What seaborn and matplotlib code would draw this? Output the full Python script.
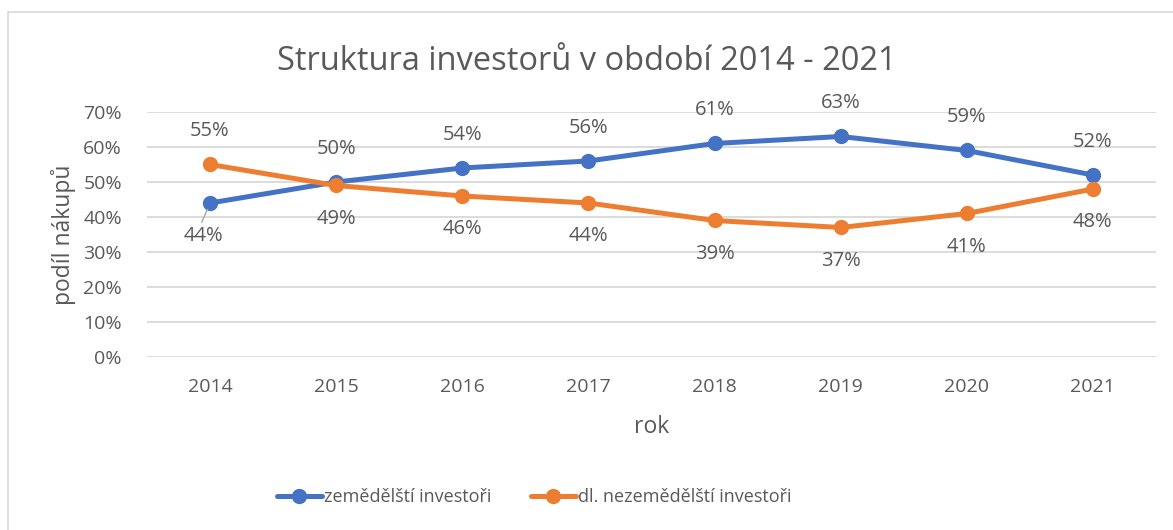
import pandas as pd
import seaborn as sns
import matplotlib.pyplot as plt
from matplotlib.patches import Rectangle

years = ['2014', '2015', '2016', '2017', '2018', '2019', '2020', '2021']
zemedelsti = [44, 50, 54, 56, 61, 63, 59, 52]
nezemedelsti = [55, 49, 46, 44, 39, 37, 41, 48]
series_names = ['zemědělští investoři', 'dl. nezemědělští investoři']

df = pd.DataFrame({
    'rok': years * 2,
    'podil': [v / 100 for v in zemedelsti + nezemedelsti],
    'skupina': [series_names[0]] * len(years) + [series_names[1]] * len(years),
})

sns.set_style('white')
plt.rcParams['font.family'] = ['Open Sans', 'DejaVu Sans']
txt = '#595959'

fig = plt.figure(figsize=(11.73, 5.3), dpi=100)
ax = fig.add_axes([0.1253, 0.3264, 0.8602, 0.4623])

# chart frame
fig.patches.append(Rectangle((8 / 1173, -0.1), 1.2, 1 - 12 / 530 + 0.1, transform=fig.transFigure,
                             fill=False, edgecolor='#D9D9D9', lw=1.2))

palette = {series_names[0]: '#4472C4', series_names[1]: '#ED7D31'}
sns.lineplot(data=df, x='rok', y='podil', hue='skupina', palette=palette, marker='o',
             markersize=11, markeredgewidth=0, linewidth=3.6, ax=ax, legend=True)

ax.set_ylim(0, 0.7)
ax.set_xlim(-0.5, len(years) - 0.5)
ax.set_yticks([i / 10 for i in range(8)])
ax.set_yticklabels([f'{i * 10}%' for i in range(8)])
ax.yaxis.grid(True, color='#D9D9D9', lw=1.3)
ax.xaxis.grid(False)
for s in ax.spines.values():
    s.set_visible(False)
ax.tick_params(axis='both', length=0, labelsize=14, labelcolor=txt)
ax.tick_params(axis='x', pad=15)
ax.tick_params(axis='y', pad=18)
ax.set_xlabel('rok', fontsize=16.5, color=txt, labelpad=14)
ax.set_ylabel('podíl nákupů', fontsize=16.5, color=txt, labelpad=5)
fig.suptitle('Struktura investorů v období 2014 - 2021', fontsize=23.5, color=txt, y=0.915)

# data labels
off = 24
for i, v in enumerate(zemedelsti):
    dy = -off if i == 0 else off
    ax.annotate(f'{v}%', (i, v / 100), xytext=(-5 if i == 0 else 0, dy), textcoords='offset points',
                ha='center', va='center', fontsize=14.5, color=txt)
for i, v in enumerate(nezemedelsti):
    dy = off if i == 0 else -off
    ax.annotate(f'{v}%', (i, v / 100), xytext=(0, dy), textcoords='offset points',
                ha='center', va='center', fontsize=14.5, color=txt)
# leader line for first label
ax.annotate('', xy=(0, zemedelsti[0] / 100), xytext=(-6, -14), textcoords='offset points',
            xycoords='data', arrowprops=dict(arrowstyle='-', color='#A6A6A6', lw=1, shrinkA=0, shrinkB=5))

handles, labels = ax.get_legend_handles_labels()
ax.legend(handles, labels, loc='center', bbox_to_anchor=(534 / 1173, 1 - 497 / 530), bbox_transform=fig.transFigure,
          ncol=2, frameon=False, fontsize=13, labelcolor=txt, handlelength=2.5, handletextpad=0.1,
          columnspacing=2.2)

fig.savefig('out.png', dpi=100)
